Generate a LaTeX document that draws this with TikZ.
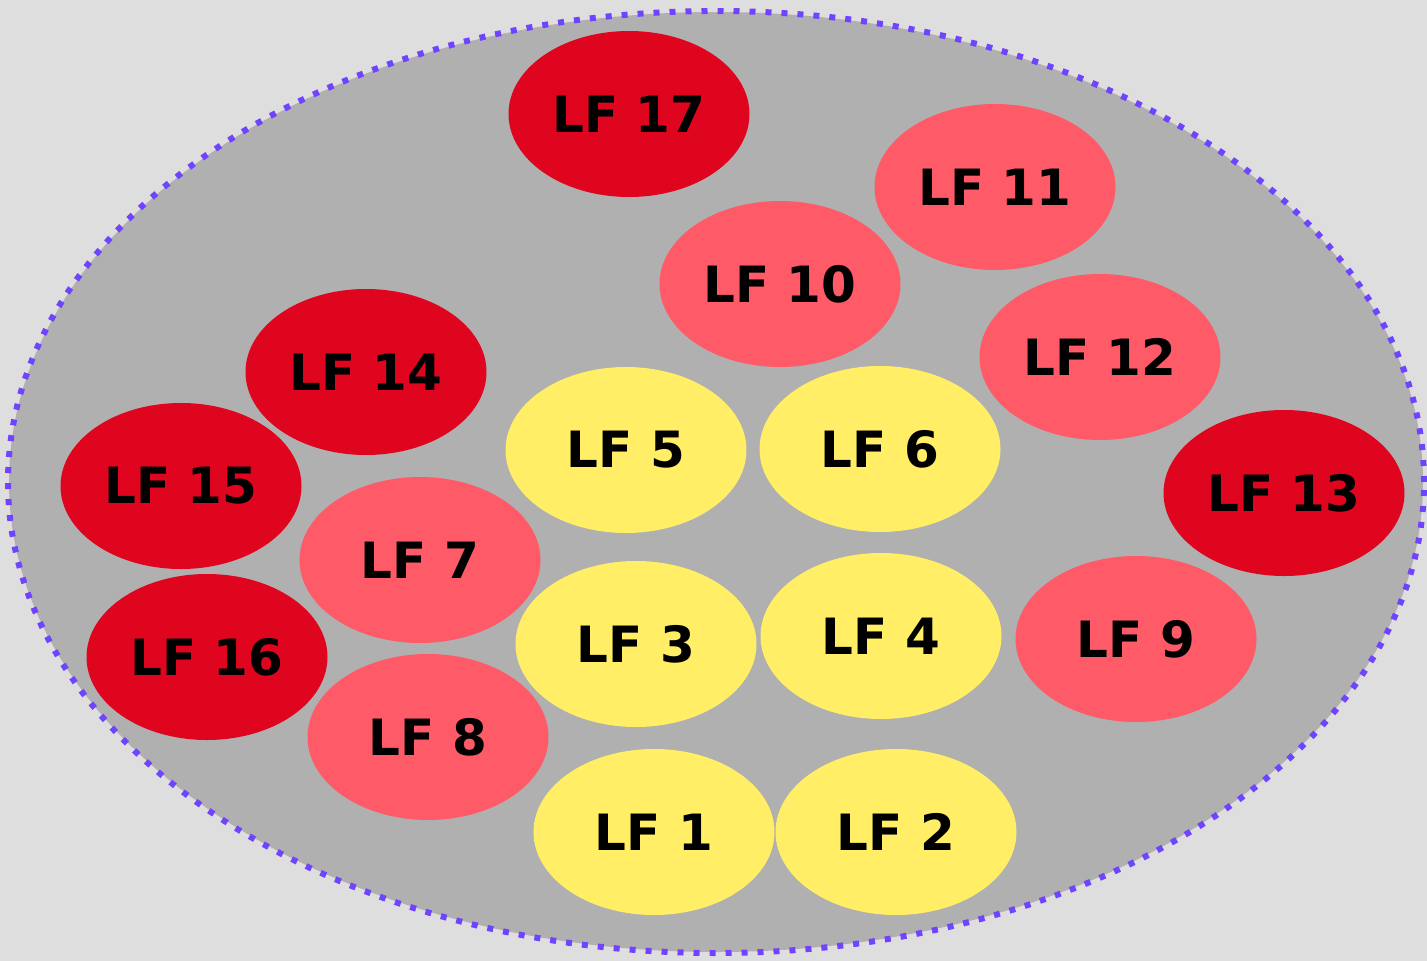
\documentclass[tikz,border=0pt]{standalone}
\usepackage{fontspec}
\setmainfont{DejaVu Sans}
\usetikzlibrary{shapes.geometric}
\definecolor{bgc}{HTML}{DEDEDE}
\definecolor{areac}{HTML}{B0B0B0}
\definecolor{borderc}{HTML}{6E44FF}
\definecolor{darkred}{HTML}{DF051E}
\definecolor{pinkc}{HTML}{FF5A68}
\definecolor{yellowc}{HTML}{FFEE66}
\begin{document}
\begin{tikzpicture}[x=1pt,y=-1pt,
  lf/.style={ellipse, minimum width=241pt, minimum height=166pt, inner sep=0pt,
    font=\bfseries\fontsize{50}{50}\selectfont, text=black},
  dark/.style={lf, fill=darkred},
  pink/.style={lf, fill=pinkc},
  yel/.style={lf, fill=yellowc}]
\fill[bgc] (0,0) rectangle (1427,961);
\useasboundingbox (0,0) rectangle (1427,961);
\node[ellipse, minimum width=1414pt, minimum height=940pt, inner sep=0pt, fill=areac] (area) at (716,482) {};
\draw[borderc, line width=6pt, dash pattern=on 6pt off 10pt] (area.center) ellipse [x radius=708pt, y radius=471pt];
\node[dark] (lf17) at (629,114) {LF 17};
\node[pink] (lf11) at (995,187) {LF 11};
\node[pink] (lf10) at (780,284) {LF 10};
\node[pink] (lf12) at (1100,357) {LF 12};
\node[dark] (lf14) at (366,372) {LF 14};
\node[yel] (lf5) at (626,450) {LF 5};
\node[yel] (lf6) at (880,449) {LF 6};
\node[dark] (lf15) at (181,486) {LF 15};
\node[dark] (lf13) at (1284,493) {LF 13};
\node[pink] (lf7) at (420,560) {LF 7};
\node[yel] (lf3) at (636,644) {LF 3};
\node[yel] (lf4) at (881,636) {LF 4};
\node[pink] (lf9) at (1136,639) {LF 9};
\node[dark] (lf16) at (207,657) {LF 16};
\node[pink] (lf8) at (428,737) {LF 8};
\node[yel] (lf1) at (654,832) {LF 1};
\node[yel] (lf2) at (896,832) {LF 2};
\end{tikzpicture}
\end{document}
